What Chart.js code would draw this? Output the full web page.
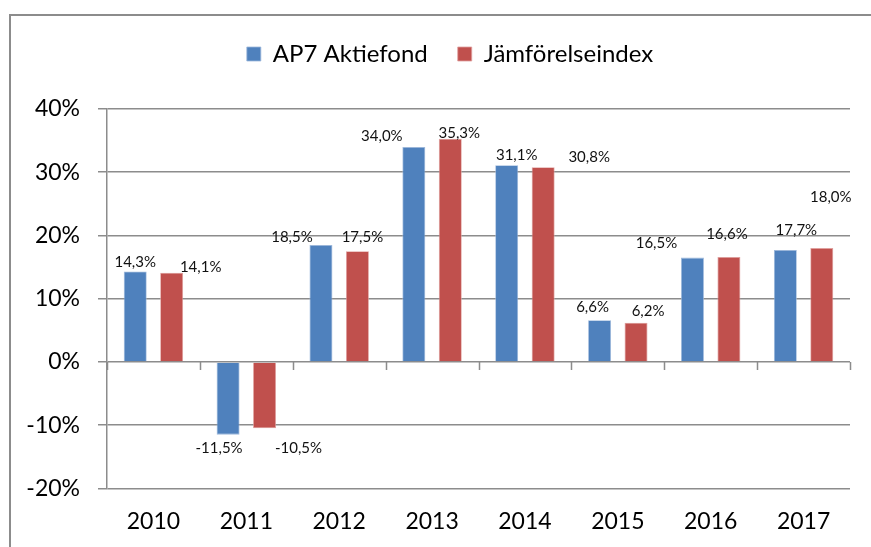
<!DOCTYPE html>
<html>
<head>
<meta charset="utf-8">
<script src="https://cdn.jsdelivr.net/npm/chart.js@4"></script>
<style>
  html, body { margin: 0; padding: 0; background: #fff; }
  #wrap { position: relative; width: 871px; height: 547px; overflow: hidden; }
  #frame { position: absolute; left: 9px; top: 14px; width: 1000px; height: 1000px; border: 2px solid #8c8c8c; box-sizing: border-box; }
  canvas { position: absolute; left: 0; top: 0; }
</style>
</head>
<body>
<div id="wrap">
  <div id="frame"></div>
  <canvas id="c" width="871" height="547"></canvas>
</div>
<script>
// ---- data ----
const categories = ['2010', '2011', '2012', '2013', '2014', '2015', '2016', '2017'];
const seriesNames = ['AP7 Aktiefond', 'Jämförelseindex'];
const ap7Values = [14.3, -11.5, 18.5, 34.0, 31.1, 6.6, 16.5, 17.7];
const indexValues = [14.1, -10.5, 17.5, 35.3, 30.8, 6.2, 16.6, 18.0];
const yTickValues = [-20, -10, 0, 10, 20, 30, 40];

// ---- label placement (offsets from bar end, px) ----
const ap7LabelOffsets = [[0, -9.5], [-9, 13.5], [-29, -8], [-32, -11], [10, -10], [-7, -13], [-36, -14.5], [11, -20]];
const indexLabelOffsets = [[29, -6], [34, 20], [5, -14], [9, -5.5], [46, -10], [12, -12], [-2, -23], [9, -51]];

const FONT = 'Lato, Carlito, "Open Sans", sans-serif';
const fmt = v => v.toFixed(1).replace('.', ',') + '%';

const labelPlugin = {
  id: 'valueLabels',
  afterDatasetsDraw(chart) {
    const ctx = chart.ctx;
    const offsets = [ap7LabelOffsets, indexLabelOffsets];
    ctx.save();
    ctx.font = '15px ' + FONT;
    ctx.fillStyle = '#111';
    ctx.textAlign = 'center';
    ctx.textBaseline = 'middle';
    chart.data.datasets.forEach((ds, di) => {
      const meta = chart.getDatasetMeta(di);
      meta.data.forEach((bar, i) => {
        const o = offsets[di][i];
        ctx.fillText(fmt(ds.data[i]), bar.x + o[0], bar.y + o[1]);
      });
    });
    ctx.restore();
  }
};

const zeroTicksPlugin = {
  id: 'zeroTicks',
  beforeDatasetsDraw(chart) {
    const ctx = chart.ctx;
    const xs = chart.scales.x, ys = chart.scales.y;
    const y0 = ys.getPixelForValue(0);
    ctx.save();
    ctx.strokeStyle = '#8c8c8c';
    ctx.lineWidth = 1.5;
    ctx.beginPath();
    for (let i = 0; i <= categories.length; i++) {
      const x = Math.round(xs.getPixelForValue(i - 0.5)) + 0.5;
      ctx.moveTo(x, y0);
      ctx.lineTo(x, y0 + 8);
    }
    ctx.stroke();
    ctx.restore();
  }
};

const legendSpace = {
  id: 'legendSpace',
  beforeInit(chart) {
    const origFit = chart.legend.fit;
    chart.legend.fit = function () {
      origFit.bind(chart.legend)();
      this.height += 33;
    };
  },
  afterLayout(chart) {
    // centre the legend over the framed area rather than the canvas
    chart.legend.left += 50;
  }
};

new Chart(document.getElementById('c'), {
  type: 'bar',
  data: {
    labels: categories,
    datasets: [
      { label: seriesNames[0], data: ap7Values, backgroundColor: '#4F81BD', borderColor: '#9db8dc', borderWidth: 0.8,
        categoryPercentage: 0.785, barPercentage: 0.63 },
      { label: seriesNames[1], data: indexValues, backgroundColor: '#C0504D', borderColor: '#e0a09e', borderWidth: 0.8,
        categoryPercentage: 0.785, barPercentage: 0.63 }
    ]
  },
  options: {
    responsive: false,
    animation: false,
    devicePixelRatio: 1,
    layout: { padding: { top: 12, right: 21, bottom: -7, left: 0 } },
    plugins: {
      legend: {
        position: 'top',
        align: 'center',
        labels: {
          boxWidth: 14, boxHeight: 14, padding: 30,
          color: '#000',
          font: { family: FONT, size: 24 }
        }
      },
      tooltip: { enabled: false }
    },
    scales: {
      x: {
        offset: true,
        grid: { display: false, drawTicks: false },
        border: { display: false },
        ticks: { color: '#000', font: { family: FONT, size: 23 }, padding: 19 }
      },
      y: {
        min: -20, max: 40,
        afterBuildTicks(scale) { scale.ticks = yTickValues.map(v => ({ value: v })); },
        afterFit(scale) { scale.width = 107; },
        grid: { color: '#8c8c8c', lineWidth: 1.5, tickLength: 9, drawTicks: true },
        border: { display: true, color: '#8c8c8c', width: 1.5 },
        ticks: { color: '#000', font: { family: FONT, size: 23 }, padding: 18, callback: v => v + '%' }
      }
    }
  },
  plugins: [labelPlugin, zeroTicksPlugin, legendSpace]
});
</script>
</body>
</html>
